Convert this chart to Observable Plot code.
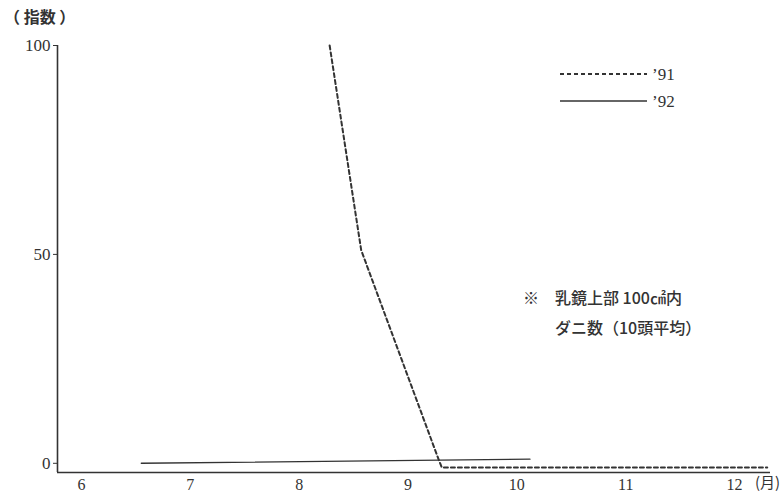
<!DOCTYPE html>
<html><head><meta charset="utf-8">
<script src="https://cdn.jsdelivr.net/npm/d3@7"></script>
<script src="https://cdn.jsdelivr.net/npm/@observablehq/plot@0.6"></script>
<style>
body{margin:0;background:#fff;}
#wrap{position:relative;width:784px;height:496px;font-family:"Noto Sans CJK JP",sans-serif;color:#333;}
.lbl{position:absolute;white-space:nowrap;}
</style></head>
<body><div id="wrap"></div>
<script>
// month positions and index values
const months91 = [8.28, 8.57, 9.28, 9.31, 12.3];
const values91 = [100, 51, 1, -1, -1];
const months92 = [6.55, 10.12];
const values92 = [0, 1];
const yTicks = [0, 50, 100];
const xTicks = [6, 7, 8, 9, 10, 11, 12];
const seriesNames = ["’91", "’92"];
const yLabel = "（ 指数 ）";
const xLabel = "(月)";
const noteLines = ["乳鏡上部 100㎠内", "ダニ数（10頭平均）"];

const d91 = months91.map((m, i) => ({month: m, value: values91[i]}));
const d92 = months92.map((m, i) => ({month: m, value: values92[i]}));
const xDom = [5.78, 12.33], yDom = [-2.2, 100];
const ink = "#333";
const fmt = d => String(d);

const chart = Plot.plot({
  width: 784, height: 496,
  marginLeft: 57, marginRight: 14, marginTop: 45, marginBottom: 24,
  style: {fontFamily: "'Liberation Serif', serif", fontSize: "16px", color: ink, background: "#fff"},
  x: {domain: xDom},
  y: {domain: yDom},
  marks: [
    Plot.axisX({ticks: xTicks, tickSize: 0, tickPadding: 6, tickFormat: fmt, label: null, fontSize: 16}),
    Plot.axisY({ticks: yTicks, tickSize: 4, tickPadding: 3, tickFormat: fmt, label: null, fontSize: 17}),
    Plot.ruleX([xDom[0]], {y1: yDom[0], y2: yDom[1], stroke: ink, strokeWidth: 1.6}),
    Plot.ruleY([yDom[0]], {x1: xDom[0], x2: xDom[1], stroke: ink, strokeWidth: 1.6}),
    Plot.line(d92, {x: "month", y: "value", stroke: ink, strokeWidth: 1.4}),
    Plot.line(d91, {x: "month", y: "value", stroke: ink, strokeWidth: 2, strokeDasharray: "4,3"})
  ]
});
const wrap = document.getElementById("wrap");
wrap.appendChild(chart);

function addLabel(text, left, top, size, extra) {
  const d = document.createElement("div");
  d.className = "lbl";
  d.textContent = text;
  d.style.left = left + "px"; d.style.top = top + "px";
  d.style.fontSize = size + "px";
  if (extra) Object.assign(d.style, extra);
  wrap.appendChild(d);
}
addLabel(yLabel, 4, 4, 16, {fontWeight: "bold"});
addLabel(xLabel, 755, 471, 15, {fontFamily: "'Noto Sans CJK JP'"});
addLabel("※", 523, 285, 16, {fontWeight: "500"});
addLabel(noteLines[0], 555, 285, 16, {fontWeight: "500"});
addLabel(noteLines[1], 555, 315, 16, {fontWeight: "500"});

// legend
const ns = "http://www.w3.org/2000/svg";
const leg = document.createElementNS(ns, "svg");
leg.setAttribute("width", 140); leg.setAttribute("height", 50);
leg.style.position = "absolute"; leg.style.left = "558px"; leg.style.top = "60px";
seriesNames.forEach((name, i) => {
  const y = 14 + i * 27;
  const ln = document.createElementNS(ns, "line");
  ln.setAttribute("x1", 2); ln.setAttribute("x2", 89);
  ln.setAttribute("y1", y); ln.setAttribute("y2", y);
  ln.setAttribute("stroke", ink); ln.setAttribute("stroke-width", i === 0 ? 2 : 1.5);
  if (i === 0) ln.setAttribute("stroke-dasharray", "4,3");
  leg.appendChild(ln);
  const t = document.createElementNS(ns, "text");
  t.setAttribute("x", 94); t.setAttribute("y", y + 6);
  t.setAttribute("font-family", "'Liberation Serif', serif");
  t.setAttribute("font-size", 17); t.setAttribute("fill", ink);
  t.textContent = name;
  leg.appendChild(t);
});
wrap.appendChild(leg);
</script></body></html>
